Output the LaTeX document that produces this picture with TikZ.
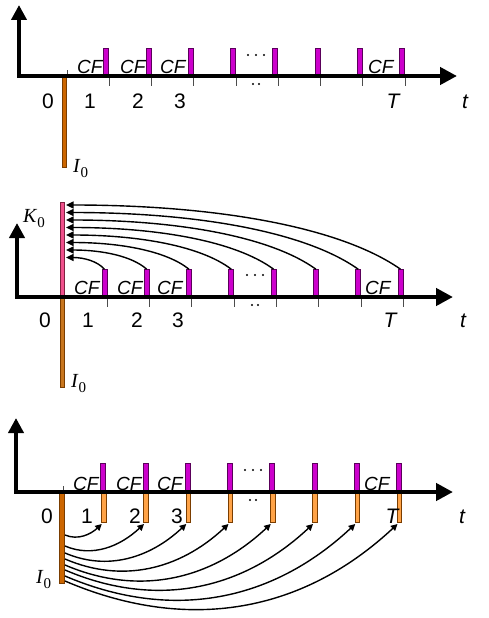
\documentclass[tikz,border=0pt]{standalone}
\usepackage{fontspec}
\setmainfont{Liberation Sans}
\newfontfamily\serifit{Liberation Serif}
\usetikzlibrary{arrows.meta}
\definecolor{mag}{HTML}{CC00CC}
\definecolor{magd}{HTML}{5A005A}
\definecolor{org}{HTML}{CC6600}
\definecolor{orgb}{HTML}{C8761E}
\definecolor{orgl}{HTML}{FFA347}
\definecolor{orgd}{HTML}{7A3D00}
\definecolor{pnk}{HTML}{F0508C}
\definecolor{pnkd}{HTML}{802040}
\tikzset{
  axisline/.style={line width=4.5pt, line join=miter, {Triangle[length=15pt,width=15pt]}-{Triangle[length=17pt,width=17pt]}},
  tickline/.style={line width=1pt, black!70},
  magbar/.style={draw=magd, fill=mag, line width=0.8pt, minimum width=5pt, minimum height=27pt, inner sep=0pt, anchor=south east},
  obar/.style={draw=orgd, fill=#1, line width=0.6pt, minimum width=4.5pt, inner sep=0pt, anchor=north east},
  smallbar/.style={draw=orgd, fill=orgl, line width=0.6pt, minimum width=4.5pt, minimum height=30pt, inner sep=0pt, anchor=north east},
  cflab/.style={font=\fontsize{19}{20}\selectfont\itshape, anchor=base west, inner sep=0pt},
  numlab/.style={font=\fontsize{21}{22}\selectfont, anchor=base, inner sep=0pt},
  itlab/.style={font=\fontsize{21}{22}\selectfont\itshape, anchor=base, inner sep=0pt},
  serlab/.style={font=\fontsize{20}{22}\selectfont\serifit, anchor=base west, inner sep=0pt},
  arcline/.style={line width=1.4pt, -{Triangle[length=6.5pt,width=6.5pt]}},
  karc/.style={line width=1.4pt, -{Triangle[length=7.5pt,width=7pt]}},
  dotf/.style={circle, fill=black, inner sep=0pt, minimum size=2.2pt},
}
\newcommand{\IsubZ}{{\itshape I\/}{\raisebox{-5pt}{\fontsize{15}{15}\selectfont 0}}}
\newcommand{\KsubZ}{{\itshape K\/}{\raisebox{-5pt}{\fontsize{15}{15}\selectfont 0}}}
\begin{document}
\begin{tikzpicture}[x=1pt,y=-1pt]
\path[use as bounding box] (0,0) rectangle (488,618);

% ================= Panel 1 =================
\coordinate (ya1) at (19,5);
\coordinate (o1) at (19,76);
\coordinate (xa1) at (457,76);
\foreach \i in {1,...,8}{
  \pgfmathsetmacro{\x}{67+42.25*\i}
  \draw[tickline] (\x,76) -- (\x,86);
}
\draw[tickline] (67,70) -- (67,76);
\node[cflab] (cfa1) at (77,73.5) {CF};
\node[cflab] (cfa2) at (120,73.5) {CF};
\node[cflab] (cfa3) at (160,73.5) {CF};
\node[cflab] (cfa8) at (368,73.5) {CF};
\foreach \i in {1,...,8}{
  \pgfmathsetmacro{\x}{67+42.25*\i}
  \node[magbar] (pa\i) at (\x,76) {};
}
\node[obar=org, minimum height=91pt] (ia) at (67,76) {};
\draw[axisline] (ya1) -- (o1) -- (xa1);
\node[dotf] (da1) at (248,55) {};
\node[dotf] (da2) at (256,55) {};
\node[dotf] (da3) at (264,55) {};
\node[dotf] (da4) at (253,84) {};
\node[dotf] (da5) at (259,84) {};
\node[numlab] (na0) at (48,108) {0};
\node[numlab] (na1) at (90,108) {1};
\node[numlab] (na2) at (138,108) {2};
\node[numlab] (na3) at (180,108) {3};
\node[itlab] (naT) at (393,108) {T};
\node[itlab] (nat) at (465,108) {t};
\node[serlab] (la) at (73,172) {\IsubZ};

% ================= Panel 2 =================
\coordinate (ya2) at (17,223);
\coordinate (o2) at (17,297);
\coordinate (xa2) at (453,297);
\foreach \i in {1,...,8}{
  \pgfmathsetmacro{\x}{65+42.3*\i}
  \draw[tickline] (\x,297) -- (\x,307);
}
\node[cflab] (cfb1) at (74,294) {CF};
\node[cflab] (cfb2) at (117,294) {CF};
\node[cflab] (cfb3) at (157,294) {CF};
\node[cflab] (cfb8) at (365,294) {CF};
\foreach \i in {1,...,8}{
  \pgfmathsetmacro{\x}{65+42.3*\i}
  \node[magbar] (pb\i) at (\x,297) {};
}
\node[draw=pnkd, fill=pnk, line width=0.6pt, minimum width=4.5pt, minimum height=94pt, inner sep=0pt, anchor=south east] (kb) at (65,297) {};
\node[obar=orgb, minimum height=90pt] (ib) at (65,297) {};
\draw[axisline] (ya2) -- (o2) -- (xa2);
\foreach \i in {1,...,8}{
  \pgfmathsetmacro{\x}{65+42.3*\i-2.5}
  \pgfmathsetmacro{\ye}{257.5-7.5*(\i-1)}
  \pgfmathsetmacro{\dx}{\x-66}
  \pgfmathsetmacro{\dy}{270-\ye}
  \coordinate (ke\i) at (66,\ye);
  \draw[karc] (pb\i.north) .. controls +(-0.18*\dx,-0.65*\dy) and +(0.45*\dx,0) .. (ke\i);
}
\node[dotf] (db1) at (247,275) {};
\node[dotf] (db2) at (255,275) {};
\node[dotf] (db3) at (263,275) {};
\node[dotf] (db4) at (252,305) {};
\node[dotf] (db5) at (258,305) {};
\node[numlab] (nb0) at (45,327) {0};
\node[numlab] (nb1) at (88,327) {1};
\node[numlab] (nb2) at (137,327) {2};
\node[numlab] (nb3) at (178,327) {3};
\node[itlab] (nbT) at (390,327) {T};
\node[itlab] (nbt) at (463,327) {t};
\node[serlab] (kl) at (23,222) {\KsubZ};
\node[serlab] (lb) at (71,387) {\IsubZ};

% ================= Panel 3 =================
\coordinate (ya3) at (16,418);
\coordinate (o3) at (16,492);
\coordinate (xa3) at (453,492);
\draw[tickline] (63,486) -- (63,492);
\node[cflab] (cfc1) at (73,490) {CF};
\node[cflab] (cfc2) at (116,490) {CF};
\node[cflab] (cfc3) at (157,490) {CF};
\node[cflab] (cfc8) at (364,490) {CF};
\foreach \i in {1,...,8}{
  \pgfmathsetmacro{\x}{64+42.25*\i}
  \node[magbar, minimum height=28pt] (pc\i) at (\x,492) {};
  \node[smallbar] (sc\i) at (\x,492) {};
}
\node[obar=org, minimum height=91pt] (ic) at (64.5,492) {};
\draw[axisline] (ya3) -- (o3) -- (xa3);
\node[dotf] (dc1) at (245,470) {};
\node[dotf] (dc2) at (253,470) {};
\node[dotf] (dc3) at (261,470) {};
\node[dotf] (dc4) at (250,500) {};
\node[dotf] (dc5) at (256,500) {};
\node[numlab] (nc0) at (47,523) {0};
\node[numlab] (nc1) at (87,523) {1};
\node[numlab] (nc2) at (135,523) {2};
\node[numlab] (nc3) at (177,523) {3};
\node[itlab] (ncT) at (392,523) {T};
\node[itlab] (nct) at (462,523) {t};
\node[serlab] (lc) at (36,583) {\IsubZ};
\foreach \i/\ys in {1/535,2/546,3/553,4/559,5/565,6/570,7/576,8/581}{
  \pgfmathsetmacro{\x}{64+42.25*\i-4.5}
  \pgfmathsetmacro{\dx}{\x-65}
  \coordinate (st\i) at (65,\ys);
  \coordinate (en\i) at (\x,524);
  \draw[arcline] (st\i) .. controls +(0.35*\dx,0.15*\dx) and +(-0.3*\dx,0.28*\dx) .. (en\i);
}
\end{tikzpicture}
\end{document}
